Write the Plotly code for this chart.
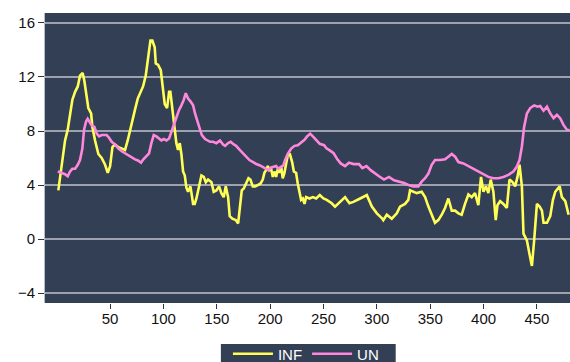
import plotly.graph_objects as go

# Observation index and inflation rate (INF)
inf_t = [1.5, 4.7, 7.8, 10.3, 12.5, 14.6, 17.2, 19.7, 21.8, 24.3, 25.9, 28.1, 29.6, 32.2, 33.4,
         35.9, 39.0, 42.1, 45.3, 47.8, 50.0, 52.2, 54.6, 57.8, 60.9, 64.0, 66.5, 68.7, 70.9,
         73.4, 75.9, 79.0, 80.9, 83.4, 85.6, 87.8, 89.6, 91.8, 92.8, 95.0, 97.5, 99.6, 101.2,
         103.4, 105.3, 106.5, 108.4, 109.6, 112.1, 113.7, 115.3, 116.8, 118.4, 120.0, 121.5,
         123.1, 125.3, 127.8, 129.3, 130.9, 133.4, 135.6, 137.8, 139.7, 141.8, 145.0, 147.1,
         149.6, 152.1, 154.3, 156.5, 158.4, 160.6, 162.1, 164.6, 167.8, 170.0, 171.5, 173.4,
         175.3, 177.5, 179.7, 181.5, 183.7, 186.0, 188.4, 190.9, 193.1, 194.6, 196.2, 197.8,
         199.3, 200.9, 202.5, 204.0, 205.6, 207.2, 208.7, 210.3, 211.8, 213.4, 215.0, 216.5,
         218.3, 220.6, 222.2, 224.3, 225.9, 227.5, 229.0, 230.6, 232.2, 233.7, 236.8, 240.0,
         243.1, 246.5, 249.9, 253.0, 257.7, 260.8, 265.5, 270.2, 274.3, 278.0, 284.4, 290.6,
         295.3, 300.0, 304.6, 306.0, 309.3, 314.0, 318.7, 321.7, 326.4, 329.5, 331.1, 334.2,
         337.4, 342.0, 345.2, 348.3, 351.4, 354.5, 357.6, 360.8, 363.9, 367.0, 370.2, 373.3,
         376.4, 379.5, 382.6, 385.8, 388.9, 392.0, 395.1, 397.6, 399.9, 402.3, 404.5, 406.7,
         409.2, 411.4, 413.0, 415.5, 418.6, 421.8, 424.3, 427.4, 429.6, 431.8, 433.7, 435.9,
         437.4, 440.6, 443.0, 445.3, 447.4, 450.0, 452.5, 454.7, 456.2, 459.4, 462.5, 465.0,
         467.2, 471.3, 473.4, 476.6, 479.7]
inf_v = [3.6, 5.6, 7.3, 8.1, 9.3, 10.3, 10.9, 11.3, 12.1, 12.3, 11.7, 10.3, 9.7, 9.3, 8.3,
         7.3, 6.3, 6.0, 5.5, 4.9, 5.4, 6.8, 7.0, 6.8, 6.7, 6.6, 7.3, 8.1, 8.8,
         9.6, 10.4, 11.0, 11.3, 12.1, 13.5, 14.7, 14.7, 14.2, 13.0, 12.9, 12.5, 11.3, 10.0,
         9.7, 10.9, 10.9, 9.6, 8.6, 7.1, 6.6, 7.1, 6.3, 5.0, 4.7, 3.8,
         3.5, 3.9, 2.6, 2.6, 3.0, 4.0, 4.7, 4.6, 4.2, 4.4, 4.2, 3.5,
         3.6, 3.9, 3.4, 3.1, 3.9, 3.1, 1.7, 1.5, 1.4, 1.15, 2.1, 3.6,
         3.75, 4.1, 4.5, 4.4, 3.9, 3.9, 4.0, 4.1, 4.4, 4.9, 5.1, 5.4,
         5.1, 5.2, 4.6, 5.0, 4.6, 5.2, 4.9, 5.4, 4.5, 4.9, 5.6, 6.2,
         6.35, 5.7, 5.0, 4.9, 4.1, 3.4, 2.9, 3.0, 2.6, 3.1, 3.0, 3.1,
         3.0, 3.25, 3.0, 2.9, 2.65, 2.4, 2.75, 3.1, 2.65, 2.75, 3.0, 3.25,
         2.4, 1.9, 1.55, 1.4, 1.8, 1.5, 1.9, 2.4, 2.6, 2.9, 3.6, 3.5,
         3.4, 3.5, 3.1, 2.4, 1.8, 1.2, 1.4, 1.8, 2.3, 3.0, 2.1, 2.1,
         1.9, 1.8, 2.6, 3.3, 3.1, 3.4, 2.5, 4.6, 3.5, 3.9, 3.4, 4.4,
         3.5, 1.4, 2.5, 2.8, 2.6, 2.3, 4.4, 4.2, 3.9, 4.6, 5.5, 3.9,
         0.4, -0.1, -1.1, -2.0, -0.1, 2.6, 2.4, 2.1, 1.2, 1.2, 1.7, 2.9,
         3.5, 3.9, 3.1, 2.8, 1.8]

# Observation index and unemployment rate (UN)
un_t = [1.0, 4.7, 7.8, 10.3, 12.5, 14.6, 17.2, 19.7, 21.8, 24.0, 25.6, 27.5, 29.0, 30.6, 32.8,
        35.3, 37.5, 39.7, 42.1, 44.7, 46.8, 49.0, 51.5, 54.6, 57.8, 60.9, 64.0, 67.2, 70.3,
        73.4, 76.5, 79.0, 81.2, 84.0, 86.5, 88.7, 90.9, 93.4, 95.9, 98.1, 100.3, 102.8, 105.3,
        107.5, 109.6, 112.1, 114.6, 116.8, 119.0, 120.9, 123.1, 125.3, 127.8, 129.6, 131.0,
        132.5, 134.3, 136.0, 139.0, 143.7, 146.5, 149.6, 153.0, 155.9, 157.8, 160.6, 163.0,
        165.9, 168.1, 171.5, 174.3, 178.0, 180.6, 184.0, 187.0, 190.5, 193.1, 196.2, 198.3,
        201.0, 203.0, 205.6, 207.7, 210.0, 212.4, 214.0, 216.5, 219.7, 222.8, 225.9, 229.0,
        232.2, 234.6, 237.5, 240.0, 243.1, 246.5, 250.5, 253.0, 255.2, 259.5, 263.0, 266.1,
        270.2, 273.9, 278.3, 283.3, 286.4, 290.2, 294.2, 297.4, 302.0, 306.7, 311.4, 316.1,
        320.8, 325.5, 329.6, 334.2, 338.9, 342.0, 345.2, 348.3, 351.4, 354.5, 359.2, 363.9,
        367.0, 370.2, 373.3, 376.4, 381.1, 385.8, 390.5, 395.1, 399.9, 404.5, 409.2, 413.9,
        418.6, 423.3, 427.9, 431.1, 433.7, 435.9, 438.0, 440.6, 443.7, 447.4, 450.6, 453.0,
        456.2, 459.4, 462.5, 465.6, 468.7, 471.8, 474.9, 478.1, 480.6]
un_v = [5.0, 4.9, 4.8, 4.65, 5.0, 5.2, 5.2, 5.5, 5.85, 6.7, 8.1, 8.7, 8.9, 8.7, 8.4,
        8.3, 7.8, 7.6, 7.7, 7.7, 7.7, 7.5, 7.2, 7.0, 6.7, 6.5, 6.35, 6.15, 6.0,
        5.9, 5.8, 5.65, 5.9, 6.1, 6.35, 7.1, 7.7, 7.6, 7.45, 7.3, 7.4, 7.3, 7.45,
        7.95, 8.55, 9.05, 9.55, 9.9, 10.3, 10.8, 10.4, 10.2, 9.9, 9.3, 8.9,
        8.5, 8.1, 7.7, 7.4, 7.2, 7.2, 7.1, 7.3, 7.0, 6.9, 7.1, 7.2,
        7.0, 6.9, 6.6, 6.35, 6.1, 5.85, 5.7, 5.55, 5.45, 5.35, 5.2, 5.1,
        5.3, 5.35, 5.4, 5.2, 5.35, 5.45, 5.85, 6.3, 6.7, 6.9, 6.95, 7.15,
        7.35, 7.6, 7.8, 7.6, 7.35, 7.05, 6.95, 6.7, 6.6, 6.35, 5.9, 5.6,
        5.4, 5.65, 5.55, 5.55, 5.25, 5.4, 5.1, 4.9, 4.65, 4.4, 4.6, 4.35,
        4.25, 4.15, 4.0, 3.9, 3.9, 4.25, 4.5, 4.85, 5.5, 5.85, 5.85, 5.9,
        6.1, 6.3, 6.1, 5.7, 5.6, 5.4, 5.25, 5.0, 4.85, 4.6, 4.5, 4.5,
        4.6, 4.75, 5.0, 5.35, 5.85, 6.85, 8.3, 9.3, 9.7, 9.9, 9.8, 9.85,
        9.5, 9.8, 9.3, 8.95, 9.2, 8.95, 8.45, 8.1, 8.05]

x_ticks = [50, 100, 150, 200, 250, 300, 350, 400, 450]
y_ticks = [-4, 0, 4, 8, 12, 16]

panel = "#333F55"
grid = "#9DA2AE"

fig = go.Figure()
fig.add_trace(go.Scatter(x=inf_t, y=inf_v, name="INF", mode="lines",
                         line=dict(color="#FFFF55", width=2.6)))
fig.add_trace(go.Scatter(x=un_t, y=un_v, name="UN", mode="lines",
                         line=dict(color="#FF88DD", width=2.6)))

# dark backing panel behind the legend entries
fig.add_shape(type="rect", xref="paper", yref="paper", layer="below",
              x0=0.335, x1=0.668, y0=-0.21, y1=-0.1414,
              fillcolor=panel, line=dict(width=0))

fig.update_layout(
    width=570, height=362,
    margin=dict(l=45, r=0, t=13, b=59, autoexpand=False),
    paper_bgcolor="white",
    plot_bgcolor=panel,
    font=dict(family="Liberation Sans, Arial, sans-serif", size=15, color="#111111"),
    showlegend=True,
    legend=dict(orientation="h", x=0.497, xanchor="center", y=-0.119, yanchor="top",
                bgcolor="rgba(0,0,0,0)", font=dict(color="white", size=15),
                itemwidth=40, tracegroupgap=0),
)
fig.update_xaxes(range=[-11, 481], tickvals=x_ticks, showgrid=False, zeroline=False,
                 ticks="outside", ticklen=5, tickcolor="#333333", tickwidth=1,
                 showline=False, ticklabelstandoff=-3)
fig.update_yaxes(range=[-4.74, 16.74], tickvals=y_ticks, showgrid=True,
                 gridcolor=grid, gridwidth=1.5, zeroline=False,
                 ticks="outside", ticklen=6, tickcolor="#333333", tickwidth=1,
                 showline=True, linecolor="#B8BCC6", linewidth=1)

fig.write_html("out.html")
